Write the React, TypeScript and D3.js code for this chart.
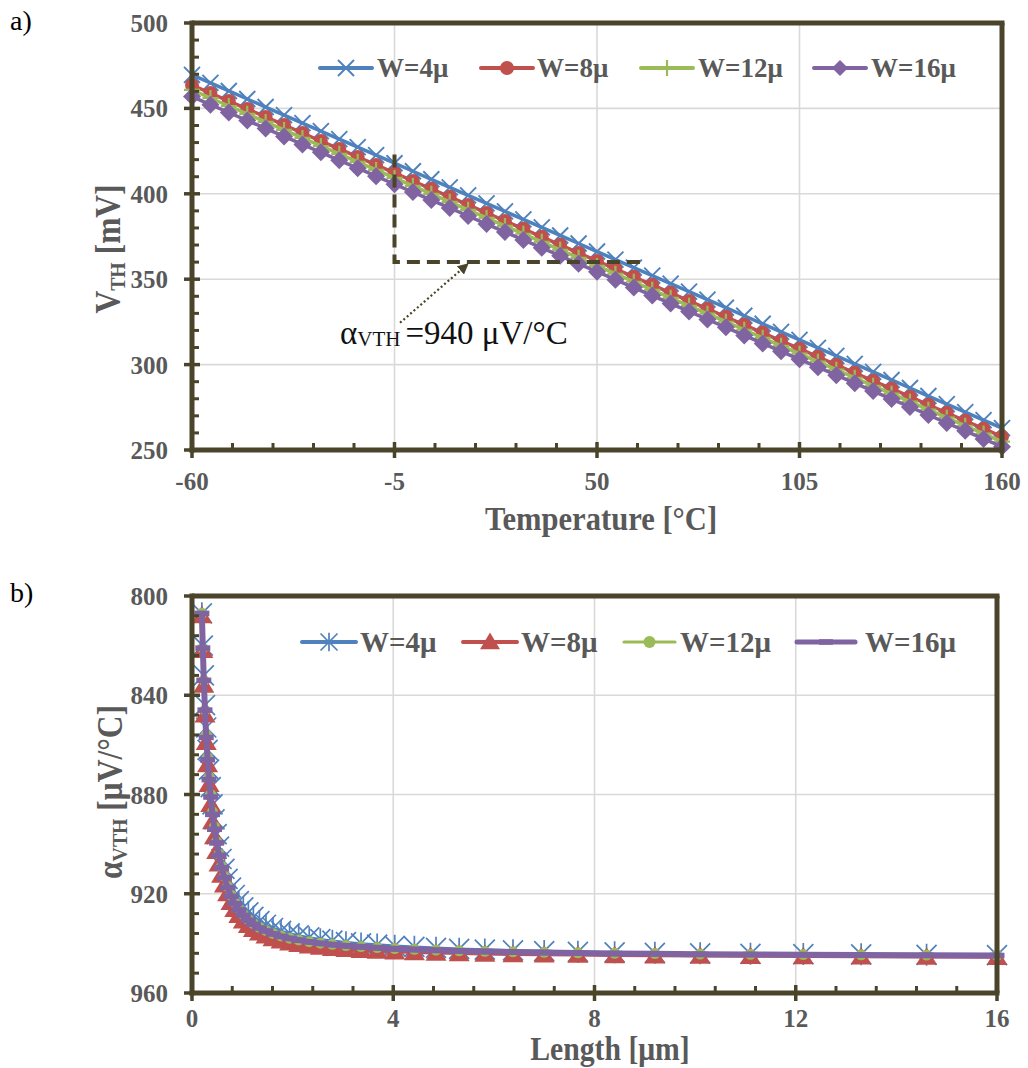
import React from 'react';
import * as d3 from 'd3';

// ---------- DATA: panel a) ----------
const temps = [-60, -55, -50, -45, -40, -35, -30, -25, -20, -15, -10, -5, 0, 5, 10, 15, 20, 25, 30, 35, 40, 45, 50, 55, 60, 65, 70, 75, 80, 85, 90, 95, 100, 105, 110, 115, 120, 125, 130, 135, 140, 145, 150, 155, 160];
const vthW4 = [469.6, 464.9, 460.2, 455.5, 450.8, 446.1, 441.4, 436.7, 432.0, 427.3, 422.6, 417.9, 413.2, 408.5, 403.8, 399.1, 394.4, 389.7, 385.0, 380.3, 375.6, 370.9, 366.2, 361.5, 356.8, 352.1, 347.4, 342.7, 338.0, 333.3, 328.6, 323.9, 319.2, 314.5, 309.8, 305.1, 300.4, 295.7, 291.0, 286.3, 281.6, 276.9, 272.2, 267.5, 262.8];
const vthW8 = [463.7, 459.0, 454.3, 449.7, 445.0, 440.3, 435.6, 430.9, 426.3, 421.6, 416.9, 412.2, 407.5, 402.9, 398.2, 393.5, 388.8, 384.1, 379.5, 374.8, 370.1, 365.4, 360.7, 356.1, 351.4, 346.7, 342.0, 337.3, 332.7, 328.0, 323.3, 318.6, 313.9, 309.3, 304.6, 299.9, 295.2, 290.5, 285.9, 281.2, 276.5, 271.8, 267.1, 262.5, 257.8];
const vthW12 = [460.8, 456.1, 451.4, 446.8, 442.1, 437.4, 432.7, 428.0, 423.4, 418.7, 414.0, 409.3, 404.6, 400.0, 395.3, 390.6, 385.9, 381.2, 376.6, 371.9, 367.2, 362.5, 357.8, 353.2, 348.5, 343.8, 339.1, 334.4, 329.8, 325.1, 320.4, 315.7, 311.0, 306.4, 301.7, 297.0, 292.3, 287.6, 283.0, 278.3, 273.6, 268.9, 264.2, 259.6, 254.9];
const vthW16 = [456.9, 452.2, 447.6, 442.9, 438.3, 433.6, 428.9, 424.3, 419.6, 415.0, 410.3, 405.6, 401.0, 396.3, 391.7, 387.0, 382.3, 377.7, 373.0, 368.4, 363.7, 359.0, 354.4, 349.7, 345.1, 340.4, 335.7, 331.1, 326.4, 321.8, 317.1, 312.4, 307.8, 303.1, 298.5, 293.8, 289.1, 284.5, 279.8, 275.2, 270.5, 265.8, 261.2, 256.5, 251.9];
const topXTicks = [-60, -5, 50, 105, 160];
const topYTicks = [250, 300, 350, 400, 450, 500];

// ---------- DATA: panel b) ----------
const lengths = [0.196, 0.215, 0.235, 0.258, 0.283, 0.31, 0.339, 0.372, 0.408, 0.447, 0.49, 0.537, 0.588, 0.645, 0.707, 0.775, 0.85, 0.93, 1.02, 1.12, 1.22, 1.34, 1.47, 1.61, 1.77, 1.94, 2.12, 2.33, 2.55, 2.79, 3.06, 3.36, 3.68, 4.03, 4.42, 4.85, 5.31, 5.82, 6.38, 7.0, 7.67, 8.4, 9.2, 10.1, 11.1, 12.15, 13.3, 14.6, 16.0];
const alphaW4 = [807, 820, 832, 844, 853, 862, 870, 877, 884, 890, 896, 901, 906, 910, 914, 917.5, 920.5, 923, 925.5, 927.5, 929.3, 931, 932.5, 933.8, 935, 936, 936.8, 937.6, 938.3, 938.9, 939.5, 940, 940.5, 941, 941.4, 941.8, 942.2, 942.5, 942.8, 943.1, 943.4, 943.6, 943.8, 944, 944.2, 944.3, 944.4, 944.6, 944.7];
const alphaW8 = [808, 822, 836, 848, 859, 868, 876, 884, 891, 897, 903, 908, 912.5, 916.5, 920, 923.5, 926.3, 928.8, 931, 932.8, 934.4, 935.8, 937, 938.1, 939, 939.8, 940.5, 941.1, 941.6, 942.1, 942.5, 942.9, 943.2, 943.5, 943.8, 944, 944.2, 944.4, 944.6, 944.7, 944.8, 945, 945.1, 945.2, 945.3, 945.4, 945.5, 945.6, 945.7];
const alphaW12 = [807, 821, 834, 846, 856, 865, 873, 880, 887, 893, 899, 904, 909, 913, 917, 920.5, 923.5, 926, 928.3, 930.3, 932, 933.5, 934.8, 936, 937, 937.9, 938.6, 939.3, 939.9, 940.4, 940.9, 941.3, 941.7, 942.1, 942.4, 942.7, 943, 943.2, 943.4, 943.6, 943.8, 944, 944.1, 944.3, 944.4, 944.5, 944.6, 944.7, 944.8];
const alphaW16 = [807, 821, 834, 846, 857, 866, 874, 881, 888, 894, 899.5, 904.5, 909.5, 913.5, 917.5, 921, 924, 926.5, 928.7, 930.7, 932.3, 933.8, 935, 936.2, 937.2, 938, 938.7, 939.4, 940, 940.5, 941, 941.4, 941.8, 942.2, 942.5, 942.8, 943.1, 943.3, 943.5, 943.7, 943.9, 944.1, 944.2, 944.4, 944.5, 944.6, 944.7, 944.8, 944.9];
const botXTicks = [0, 4, 8, 12, 16];
const botYTicks = [800, 840, 880, 920, 960];

const seriesLabels = ['W=4μ', 'W=8μ', 'W=12μ', 'W=16μ'];
const seriesColors = ['#4F81BD', '#C0504D', '#9BBB59', '#8064A2'];
const topMarkers = ['x', 'circle', 'plus', 'diamond'];
const botMarkers = ['star', 'triangle', 'dot', 'dash'];

// annotation (data coords of panel a)
const slopeCorner = { t: -5, v: 360 };
const slopeTopV = 423;
const slopeRightT = 62;
const arrowFrom = { t: -3.5, v: 324.5 };
const arrowTo = { t: 14.7, v: 358.5 };

const AX = '#4A452A';
const GRID = '#D9D9D9';
const TXT = '#595959';
const FONT = "'Liberation Serif', 'Times New Roman', serif";

function Marker({ type, x, y, s, c }: { type: string; x: number; y: number; s: number; c: string }) {
  switch (type) {
    case 'x':
      return <path d={`M${x - s},${y - s}L${x + s},${y + s}M${x - s},${y + s}L${x + s},${y - s}`} stroke={c} strokeWidth={1.9} fill="none" />;
    case 'star':
      return <path d={`M${x - s},${y - s}L${x + s},${y + s}M${x - s},${y + s}L${x + s},${y - s}M${x},${y - s * 1.1}L${x},${y + s * 1.1}`} stroke={c} strokeWidth={1.7} fill="none" />;
    case 'circle':
      return <circle cx={x} cy={y} r={s} fill={c} />;
    case 'dot':
      return <circle cx={x} cy={y} r={s} fill={c} />;
    case 'plus':
      return <path d={`M${x - s},${y}L${x + s},${y}M${x},${y - s}L${x},${y + s}`} stroke={c} strokeWidth={2.2} fill="none" />;
    case 'diamond':
      return <path d={`M${x},${y - s}L${x + s},${y}L${x},${y + s}L${x - s},${y}Z`} fill={c} />;
    case 'triangle':
      return <path d={`M${x},${y - s}L${x + s * 1.05},${y + s * 0.75}L${x - s * 1.05},${y + s * 0.75}Z`} fill={c} />;
    case 'dash':
      return <rect x={x - s} y={y - 2.8} width={2 * s} height={5.6} fill={c} />;
    default:
      return null;
  }
}

function Frame({ x, y, xTicks, yTicks, xMinor, yMinor }: any) {
  const [x0, x1] = x.range();
  const [yb, yt] = y.range().slice().sort((a: number, b: number) => b - a);
  const sw = 5;
  return (
    <g>
      {yMinor.map((v: number, i: number) => (
        <line key={'ym' + i} x1={x0} x2={x0 + 7} y1={y(v)} y2={y(v)} stroke={AX} strokeWidth={3} />
      ))}
      {xMinor.map((v: number, i: number) => (
        <line key={'xm' + i} x1={x(v)} x2={x(v)} y1={yb} y2={yb - 7} stroke={AX} strokeWidth={3} />
      ))}
      {yTicks.map((v: number, i: number) => (
        <line key={'yM' + i} x1={x0 - 8} x2={x0 + 8} y1={y(v)} y2={y(v)} stroke={AX} strokeWidth={3.5} />
      ))}
      {xTicks.map((v: number, i: number) => (
        <line key={'xM' + i} x1={x(v)} x2={x(v)} y1={yb - 8} y2={yb + 8} stroke={AX} strokeWidth={3.5} />
      ))}
      <line x1={x0} x2={x1 + sw / 2} y1={yt} y2={yt} stroke={AX} strokeWidth={sw} />
      <line x1={x1} x2={x1} y1={yt} y2={yb} stroke={AX} strokeWidth={sw} />
      <line x1={x0} x2={x0} y1={yt - sw / 2} y2={yb + sw / 2} stroke={AX} strokeWidth={sw} />
      <line x1={x0 - sw / 2} x2={x1 + sw / 2} y1={yb} y2={yb} stroke={AX} strokeWidth={sw} />
    </g>
  );
}

function Grid({ x, y, xs, ys }: any) {
  const [x0, x1] = x.range();
  const r = y.range();
  const yTop = Math.min(r[0], r[1]);
  const yBot = Math.max(r[0], r[1]);
  return (
    <g>
      {ys.map((v: number, i: number) => (
        <line key={'gy' + i} x1={x0} x2={x1} y1={y(v)} y2={y(v)} stroke={GRID} strokeWidth={1.6} />
      ))}
      {xs.map((v: number, i: number) => (
        <line key={'gx' + i} x1={x(v)} x2={x(v)} y1={yTop} y2={yBot} stroke={GRID} strokeWidth={1.6} />
      ))}
    </g>
  );
}

function Legend({ items, y, markers, sizes, widths, fontSize }: any) {
  return (
    <g>
      {items.map((it: any, i: number) => (
        <g key={i}>
          <line x1={it.x0} x2={it.x1} y1={y} y2={y} stroke={seriesColors[i]} strokeWidth={widths[i]} strokeLinecap="round" />
          <Marker type={markers[i]} x={(it.x0 + it.x1) / 2} y={y} s={sizes[i]} c={seriesColors[i]} />
          <text x={it.tx} y={y} dy="0.35em" fontFamily={FONT} fontWeight="bold" fontSize={fontSize} fill={TXT}>
            {seriesLabels[i]}
          </text>
        </g>
      ))}
    </g>
  );
}

export default function App() {
  const xa = d3.scaleLinear().domain([-60, 160]).range([192, 1002]);
  const ya = d3.scaleLinear().domain([250, 500]).range([450, 23]);
  const topSeries = [vthW4, vthW8, vthW12, vthW16];
  const lineA = (vals: number[]) =>
    d3.line<number>().x((_, i) => xa(temps[i])).y((d) => ya(d))(vals) || '';
  const topSizes = [8, 7, 8, 9];

  const xb = d3.scaleLinear().domain([0, 16]).range([192, 997]);
  const yb = d3.scaleLinear().domain([800, 960]).range([596, 993]);
  const botSeries = [alphaW4, alphaW8, alphaW12, alphaW16];
  const lineB = (vals: number[]) =>
    d3.line<number>().x((_, i) => xb(lengths[i])).y((d) => yb(d))(vals) || '';
  const botSizes = [10, 10, 5.5, 7.5];
  const botLineW = [2.5, 2.5, 2.5, 6];

  const topXMinor = d3.range(-60, 160.01, 11).filter((v) => !topXTicks.includes(Math.round(v)));
  const topYMinor = d3.range(250, 500.01, 10).filter((v) => v % 50 !== 0);
  const botXMinor = d3.range(0, 16.01, 0.8).map((v) => +v.toFixed(2)).filter((v) => Math.abs(v / 4 - Math.round(v / 4)) > 1e-6);
  const botYMinor = d3.range(800, 960.01, 8).filter((v) => (v - 800) % 40 !== 0);

  const corner = { x: xa(slopeCorner.t), y: ya(slopeCorner.v) };

  return (
    <svg width={1028} height={1068} style={{ position: 'absolute', left: 0, top: 0, background: '#fff' }}>
      <defs>
        <marker id="arr" viewBox="0 0 10 10" refX="8" refY="5" markerWidth="5" markerHeight="5" orient="auto" markerUnits="strokeWidth">
          <path d="M0,0L10,5L0,10Z" fill={AX} />
        </marker>
      </defs>
      <rect x={0} y={0} width={1028} height={1068} fill="#fff" />

      {/* ================= PANEL A ================= */}
      <text x={10} y={30} fontFamily={FONT} fontSize={28} fill="#000">a)</text>
      <Grid x={xa} y={ya} xs={[-5, 50, 105]} ys={[300, 350, 400, 450]} />

      {topSeries.map((vals, s) => (
        <g key={'ts' + s}>
          <path d={lineA(vals)} fill="none" stroke={seriesColors[s]} strokeWidth={3.5} />
          {vals.map((v, i) => (
            <Marker key={i} type={topMarkers[s]} x={xa(temps[i])} y={ya(v)} s={topSizes[s]} c={seriesColors[s]} />
          ))}
        </g>
      ))}

      <path
        d={`M${corner.x},${ya(slopeTopV)}L${corner.x},${corner.y}L${xa(slopeRightT)},${corner.y}`}
        fill="none" stroke={AX} strokeWidth={4} strokeDasharray="13,7"
      />
      <line
        x1={xa(arrowFrom.t)} y1={ya(arrowFrom.v)} x2={xa(arrowTo.t)} y2={ya(arrowTo.v)}
        stroke={AX} strokeWidth={2.2} strokeDasharray="2,2.5" markerEnd="url(#arr)"
      />
      <text x={340} y={344} fontFamily={FONT} fontSize={33} fill="#111">
        α<tspan fontSize={21} dy={2}>VTH</tspan><tspan dy={-2} dx={5}>=940 μV/°C</tspan>
      </text>

      <Frame x={xa} y={ya} xTicks={topXTicks} yTicks={topYTicks} xMinor={topXMinor} yMinor={topYMinor} />

      {topYTicks.map((v) => (
        <text key={'tyl' + v} x={168} y={ya(v)} dy="0.36em" textAnchor="end" fontFamily={FONT} fontWeight="bold" fontSize={25} fill={TXT}>{v}</text>
      ))}
      {topXTicks.map((v) => (
        <text key={'txl' + v} x={xa(v)} y={490} textAnchor="middle" fontFamily={FONT} fontWeight="bold" fontSize={25} fill={TXT}>{v}</text>
      ))}
      <text transform={`translate(601,530) scale(0.9,1)`} textAnchor="middle" fontFamily={FONT} fontWeight="bold" fontSize={34} fill={TXT}>
        Temperature [°C]
      </text>
      <text transform={`translate(120,249) rotate(-90) scale(0.9,1)`} textAnchor="middle" fontFamily={FONT} fontWeight="bold" fontSize={35} fill={TXT}>
        V<tspan fontSize={22} dy={5}>TH</tspan><tspan dy={-5}> [mV]</tspan>
      </text>

      <Legend
        y={68}
        fontSize={27}
        markers={topMarkers}
        sizes={[8, 7, 8, 8]}
        widths={[4, 4, 4, 4]}
        items={[
          { x0: 320, x1: 372, tx: 377 },
          { x0: 481, x1: 533, tx: 537 },
          { x0: 641, x1: 693, tx: 698 },
          { x0: 814, x1: 866, tx: 871 },
        ]}
      />

      {/* ================= PANEL B ================= */}
      <text x={10} y={602} fontFamily={FONT} fontSize={28} fill="#000">b)</text>
      <Grid x={xb} y={yb} xs={[4, 8, 12]} ys={[840, 880, 920]} />

      {botSeries.map((vals, s) => (
        <g key={'bs' + s}>
          <path d={lineB(vals)} fill="none" stroke={seriesColors[s]} strokeWidth={botLineW[s]} />
          {vals.map((v, i) => (
            <Marker key={i} type={botMarkers[s]} x={xb(lengths[i])} y={yb(v)} s={botSizes[s]} c={seriesColors[s]} />
          ))}
        </g>
      ))}

      <Frame x={xb} y={yb} xTicks={botXTicks} yTicks={botYTicks} xMinor={botXMinor} yMinor={botYMinor} />

      {botYTicks.map((v) => (
        <text key={'byl' + v} x={168} y={yb(v)} dy="0.36em" textAnchor="end" fontFamily={FONT} fontWeight="bold" fontSize={25} fill={TXT}>{v}</text>
      ))}
      {botXTicks.map((v) => (
        <text key={'bxl' + v} x={xb(v)} y={1027} textAnchor="middle" fontFamily={FONT} fontWeight="bold" fontSize={25} fill={TXT}>{v}</text>
      ))}
      <text transform={`translate(610,1060) scale(0.9,1)`} textAnchor="middle" fontFamily={FONT} fontWeight="bold" fontSize={33} fill={TXT}>
        Length [μm]
      </text>
      <text transform={`translate(122,792) rotate(-90) scale(0.9,1)`} textAnchor="middle" fontFamily={FONT} fontWeight="bold" fontSize={35} fill={TXT}>
        α<tspan fontSize={22} dy={5}>VTH</tspan><tspan dy={-5}> [μV/°C]</tspan>
      </text>

      <Legend
        y={642}
        fontSize={29}
        markers={botMarkers}
        sizes={[8.5, 9.5, 6, 7]}
        widths={[4, 4, 3.2, 5]}
        items={[
          { x0: 302, x1: 356, tx: 360 },
          { x0: 463, x1: 517, tx: 521 },
          { x0: 624, x1: 675, tx: 680 },
          { x0: 797, x1: 855, tx: 865 },
        ]}
      />
    </svg>
  );
}
